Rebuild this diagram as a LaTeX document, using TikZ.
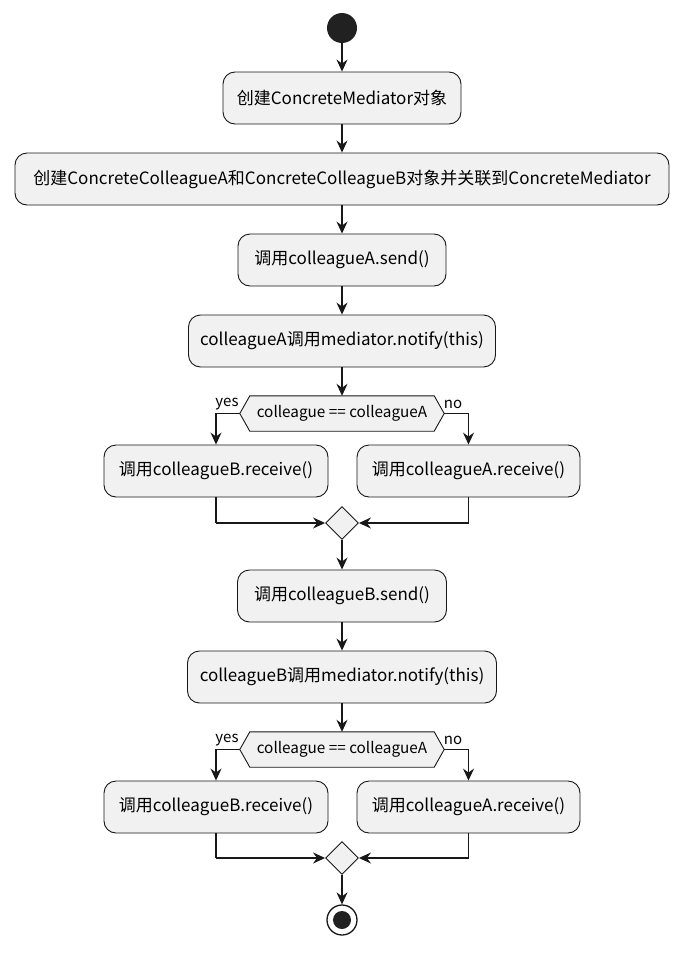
\documentclass[tikz,border=0pt]{standalone}
\usepackage{fontspec}
\setmainfont{Noto Sans CJK SC}
\usetikzlibrary{arrows.meta,shapes.geometric}
\definecolor{boxfill}{HTML}{F1F1F1}
\definecolor{linec}{HTML}{181818}
\tikzset{
  x=1pt,y=1pt,
  act/.style={draw=linec,fill=boxfill,rounded corners=12pt,line width=0.9pt,
    minimum height=52pt,inner sep=0pt,font=\fontsize{17}{20}\selectfont},
  hexbox/.style={draw=none,minimum height=35pt,inner sep=0pt,font=\fontsize{15.3}{18}\selectfont},
  merge/.style={diamond,draw=linec,fill=boxfill,line width=0.9pt,minimum width=33pt,minimum height=33pt,inner sep=0pt},
  flow/.style={draw=linec,line width=1.1pt,-{Stealth[length=12pt,width=11pt,inset=4pt]}},
  plain/.style={draw=linec,line width=1.1pt},
  lbl/.style={font=\fontsize{15}{18}\selectfont,inner sep=0pt}
}
\begin{document}
\begin{tikzpicture}
\useasboundingbox (0,0) rectangle (685,-953);
\fill[white] (0,0) rectangle (685,-953);
% start
\node[circle,fill=black!87,minimum size=30pt,inner sep=0pt] (start) at (342,-28) {};
\node[act,minimum width=238pt] (b1) at (342,-98) {创建ConcreteMediator对象};
\node[act,minimum width=654pt] (b2) at (342,-179) {创建ConcreteColleagueA和ConcreteColleagueB对象并关联到ConcreteMediator};
\node[act,minimum width=208pt] (b3) at (342,-260) {调用colleagueA.send()};
\node[act,minimum width=307pt] (b4) at (342,-341) {colleagueA调用mediator.notify(this)};
\node[hexbox,minimum width=204pt] (h1) at (342,-413.5) {colleague == colleagueA};
\draw[draw=linec,fill=boxfill,line width=0.9pt] (h1.west) -- ([xshift=10pt]h1.north west) -- ([xshift=-10pt]h1.north east) -- (h1.east) -- ([xshift=-10pt]h1.south east) -- ([xshift=10pt]h1.south west) -- cycle;
\node[hexbox,minimum width=204pt] at (h1) {colleague == colleagueA};
\node[act,minimum width=224pt] (l1) at (216,-471) {调用colleagueB.receive()};
\node[act,minimum width=223pt] (r1) at (468.5,-471) {调用colleagueA.receive()};
\node[merge] (m1) at (342,-523) {};
\node[act,minimum width=209pt] (b5) at (342,-596) {调用colleagueB.send()};
\node[act,minimum width=309pt] (b6) at (342,-677) {colleagueB调用mediator.notify(this)};
\node[hexbox,minimum width=204pt] (h2) at (342,-749.5) {colleague == colleagueA};
\draw[draw=linec,fill=boxfill,line width=0.9pt] (h2.west) -- ([xshift=10pt]h2.north west) -- ([xshift=-10pt]h2.north east) -- (h2.east) -- ([xshift=-10pt]h2.south east) -- ([xshift=10pt]h2.south west) -- cycle;
\node[hexbox,minimum width=204pt] at (h2) {colleague == colleagueA};
\node[act,minimum width=224pt] (l2) at (216,-807) {调用colleagueB.receive()};
\node[act,minimum width=223pt] (r2) at (468.5,-807) {调用colleagueA.receive()};
\node[merge] (m2) at (342,-858) {};
\node[circle,draw=linec,fill=white,line width=1.3pt,minimum size=30pt,inner sep=0pt] (stop) at (342,-920) {};
\node[circle,fill=black!87,minimum size=18pt,inner sep=0pt] (stopin) at (stop) {};
% connectors
\draw[flow] (start) -- (b1);
\draw[flow] (b1) -- (b2);
\draw[flow] (b2) -- (b3);
\draw[flow] (b3) -- (b4);
\draw[flow] (b4) -- (h1);
\draw[flow] (h1.west) -| (l1.north);
\draw[flow] (h1.east) -| (r1.north);
\node[lbl] (yes1) at (227,-404) {yes};
\node[lbl] (no1) at (453,-404) {no};
\coordinate (lc1) at (l1.south |- m1);
\coordinate (rc1) at (r1.south |- m1);
\draw[plain] (l1.south) -- (lc1);
\draw[flow] (lc1) -- (m1.west);
\draw[plain] (r1.south) -- (rc1);
\draw[flow] (rc1) -- (m1.east);
\draw[flow] (m1) -- (b5);
\draw[flow] (b5) -- (b6);
\draw[flow] (b6) -- (h2);
\draw[flow] (h2.west) -| (l2.north);
\draw[flow] (h2.east) -| (r2.north);
\node[lbl] (yes2) at (227,-740) {yes};
\node[lbl] (no2) at (453,-740) {no};
\coordinate (lc2) at (l2.south |- m2);
\coordinate (rc2) at (r2.south |- m2);
\draw[plain] (l2.south) -- (lc2);
\draw[flow] (lc2) -- (m2.west);
\draw[plain] (r2.south) -- (rc2);
\draw[flow] (rc2) -- (m2.east);
\draw[flow] (m2) -- (stop);
\end{tikzpicture}
\end{document}
